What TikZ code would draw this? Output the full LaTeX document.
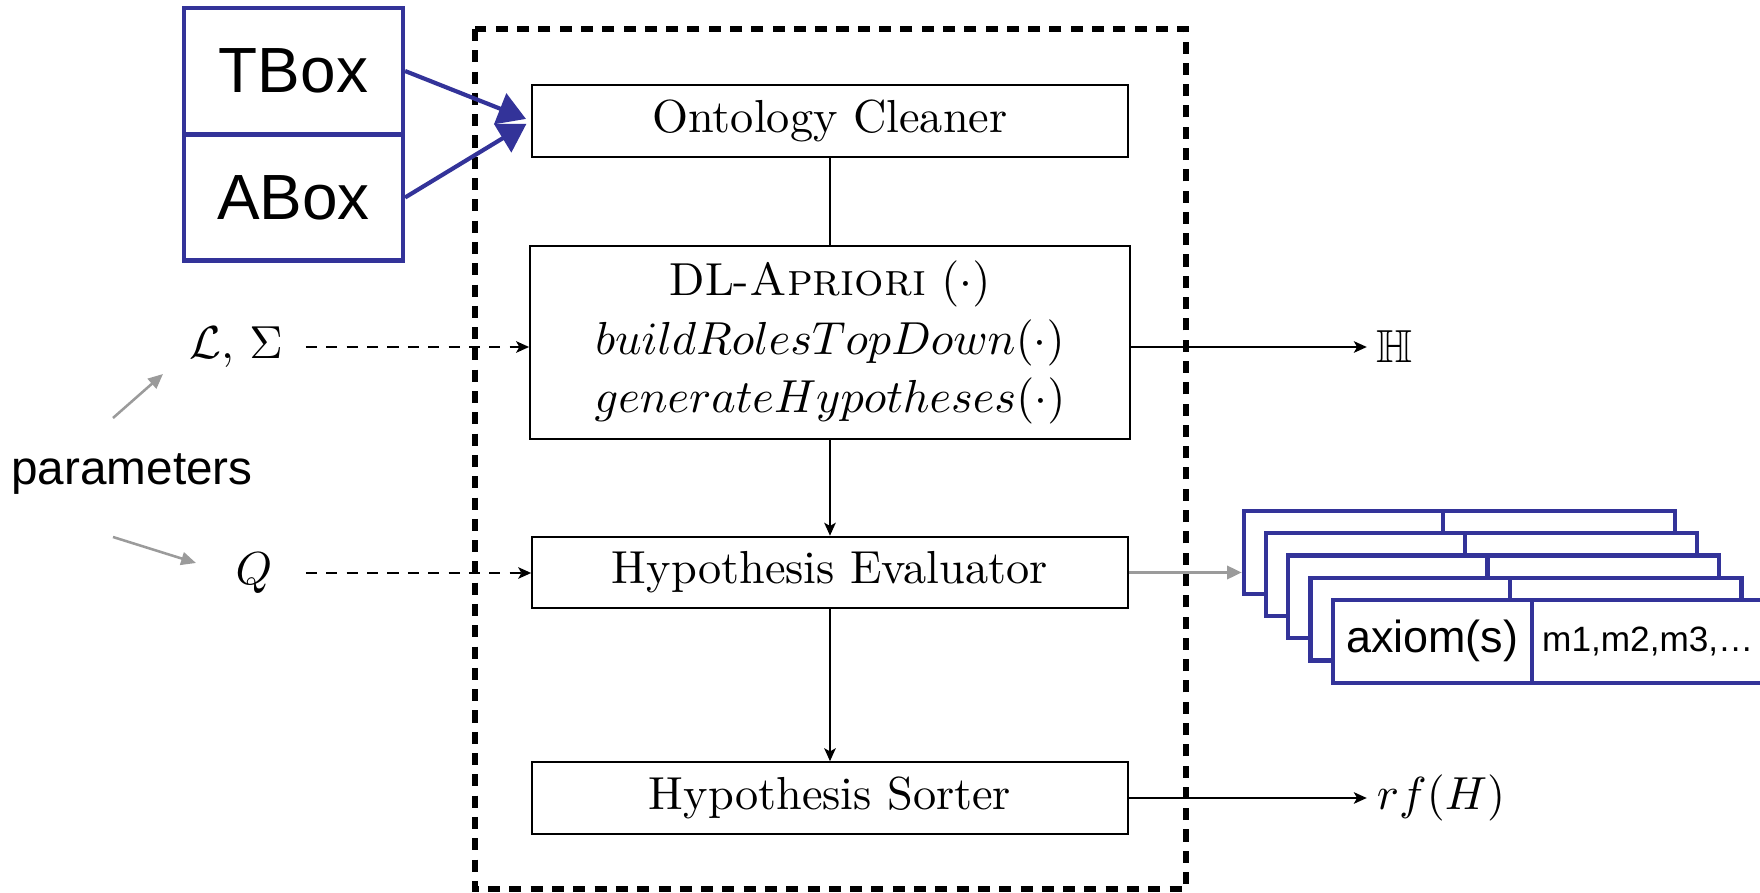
\documentclass[tikz,border=0pt]{standalone}
\usepackage{fontspec}
\usepackage{amssymb}
\newfontfamily\arial{Liberation Sans}
\usetikzlibrary{arrows.meta}
\definecolor{boxblue}{RGB}{51,51,153}
\definecolor{pgray}{RGB}{155,155,155}
\begin{document}
\begin{tikzpicture}[x=0.216pt,y=-0.216pt,
  proc/.style={draw=black, line width=0.4pt, minimum width=128.7pt, minimum height=15.5pt, inner sep=0pt, font=\fontsize{10}{12.6}\selectfont, align=center},
  kbbox/.style={draw=boxblue, line width=0.9pt, fill=white, minimum width=47.3pt, minimum height=27.2pt, inner sep=0pt, font=\arial\fontsize{13.8}{16}\selectfont},
  stl/.style={draw=boxblue, line width=0.9pt, fill=white, minimum width=43pt, minimum height=17.9pt, inner sep=0pt},
  str/.style={draw=boxblue, line width=0.9pt, fill=white, minimum width=50.1pt, minimum height=17.9pt, inner sep=0pt},
  arr/.style={draw=black, line width=0.4pt, -{Stealth[length=2.8pt,width=2.5pt,inset=0.7pt]}},
  dasharr/.style={arr, dash pattern=on 2.4pt off 2pt},
  barr/.style={draw=boxblue, line width=0.9pt, -{Triangle[length=6pt,width=7pt]}},
  garr/.style={draw=pgray, line width=0.55pt, -{Triangle[length=3.2pt,width=2.8pt]}},
  garrthick/.style={draw=pgray, line width=0.75pt, -{Triangle[length=3.2pt,width=2.8pt]}},
  lbl/.style={inner sep=2pt, font=\fontsize{10}{12}\selectfont}
]
\useasboundingbox (0,0) rectangle (1760,893);

% dashed frame
\draw[line width=1.3pt, dash pattern=on 2.6pt off 2pt] (475,29) rectangle (1186,889);

% process boxes
\node[proc] (oc) at (830,121) {Ontology Cleaner};
\node[proc, minimum width=129.6pt, minimum height=41.7pt] (dl) at (830,342.5)
  {DL-\textsc{Apriori} $(\cdot)$\\ $buildRolesTopDown(\cdot)$\\ $generateHypotheses(\cdot)$};
\node[proc] (he) at (830,572.5) {Hypothesis Evaluator};
\node[proc] (hs) at (830,798) {Hypothesis Sorter};

\draw[line width=0.4pt] (oc.south) -- (dl.north);
\draw[arr] (dl.south) -- (he.north);
\draw[arr] (he.south) -- (hs.north);

% TBox / ABox
\node[kbbox] (tbox) at (293.5,71) {TBox};
\node[kbbox] (abox) at (293.5,197.5) {ABox};
\draw[barr, shorten >=1.2pt] (tbox.east) -- (oc.west);
\draw[barr, shorten >=1.2pt] (abox.east) -- (oc.west);

% parameters
\node[lbl] (ls) at (236,347) {$\mathcal{L},\,\Sigma$};
\node[lbl] (q) at (254,573) {$Q$};
\node[inner sep=0pt, font=\arial\fontsize{10.3}{12}\selectfont] (params) at (132,474) {parameters};
\coordinate (p1s) at (113,418);
\coordinate (p1e) at (163,374);
\coordinate (p2s) at (113,537);
\coordinate (p2e) at (196,563);
\draw[garr] (p1s) -- (p1e);
\draw[garr] (p2s) -- (p2e);

\draw[dasharr, shorten <=2.8pt] (ls.east) -- (ls.east -| dl.west);
\draw[dasharr, shorten <=2.8pt] (q.east -| ls.east) -- (q.east -| he.west);

% outputs
\node[lbl] (hh) at (1395,347) {$\mathbb{H}$};
\draw[arr] (dl.east |- hh) -- (hh.west);
\node[lbl] (rf) at (1441,798) {$rf(H)$};
\draw[arr] (hs.east) -- (rf.west);

% stack of results
\foreach \i in {0,...,4} {
  \pgfmathsetmacro{\lx}{1244+22.2*\i}
  \pgfmathsetmacro{\ty}{511+22.2*\i}
  \node[stl] (s\i l) at (\lx+99.5,\ty+41.5) {};
  \node[str] (s\i r) at (\lx+199+116,\ty+41.5) {};
}
\node[font=\arial\fontsize{9.7}{11}\selectfont] at (s4l) {axiom(s)};
\node[font=\arial\fontsize{7.6}{9}\selectfont] at (s4r) {m1,m2,m3,…};

\draw[garrthick] (he.east) -- (he.east -| s0l.west);
\end{tikzpicture}
\end{document}
